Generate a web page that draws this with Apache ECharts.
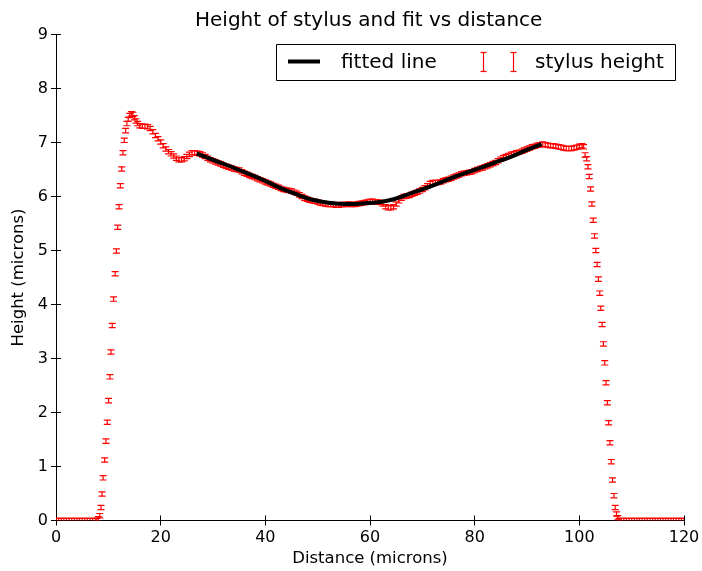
<!DOCTYPE html>
<html>
<head>
<meta charset="utf-8">
<script src="https://cdn.jsdelivr.net/npm/echarts/dist/echarts.min.js"></script>
<style>
  html, body { margin: 0; padding: 0; background: #fff; }
  #chart { width: 702px; height: 571px; }
</style>
</head>
<body>
<div id="chart"></div>
<script>
// Stylus profile: [distance (microns), height (microns)]
const leftFlat = [[0,0],[0.5,0],[1,0],[1.5,0],[2,0],[2.5,0],[3,0],[3.5,0],[4,0],[4.5,0],[5,0],[5.5,0],[6,0],[6.5,0],[7,0],[7.5,0],[7.8,0]];
const risingEdge = [[8.08,0.03],[8.35,0.09],[8.6,0.24],[8.8,0.49],[9.0,0.79],[9.3,1.12],[9.55,1.47],[9.8,1.82],[10.05,2.22],[10.3,2.66],[10.5,3.12],[10.75,3.61],[11.0,4.10],[11.3,4.57],[11.55,4.99],[11.8,5.43],[12.05,5.81],[12.3,6.20],[12.55,6.51],[12.8,6.81],[13.05,7.04],[13.3,7.22],[13.55,7.35],[13.8,7.43],[14.1,7.50],[14.4,7.53]];
const leftShoulder = [[14.7,7.52],[15.0,7.46],[15.3,7.40],[15.6,7.35],[16.0,7.31],[16.5,7.30],[17.0,7.30],[17.5,7.29],[18.0,7.26],[18.5,7.20],[19.0,7.13],[19.5,7.07],[20.0,7.01],[20.5,6.94],[21.0,6.88],[21.5,6.83],[22.0,6.79],[22.5,6.75],[23.0,6.71],[23.5,6.68],[24.0,6.68],[24.5,6.70],[25.0,6.74],[25.5,6.78],[26.0,6.81],[26.5,6.81],[27.0,6.80]];
const profileTop = [
  [27.5,6.79],[28,6.77],[28.5,6.74],[29,6.71],[29.5,6.68],[30,6.66],[30.5,6.64],[31,6.62],[31.5,6.60],[32,6.58],
  [32.5,6.56],[33,6.54],[33.5,6.53],[34,6.51],[34.5,6.50],[35,6.49],[35.5,6.46],[36,6.43],[36.5,6.41],[37,6.39],
  [37.5,6.37],[38,6.35],[38.5,6.33],[39,6.31],[39.5,6.29],[40,6.27],[40.5,6.25],[41,6.23],[41.5,6.21],[42,6.19],
  [42.5,6.17],[43,6.15],[43.5,6.13],[44,6.12],[44.5,6.11],[45,6.10],[45.5,6.08],[46,6.06],[46.5,6.03],[47,6.00],
  [47.5,5.97],[48,5.95],[48.5,5.93],[49,5.92],[49.5,5.91],[50,5.90],[50.5,5.88],[51,5.87],[51.5,5.86],[52,5.85],
  [52.5,5.85],[53,5.85],[53.5,5.84],[54,5.84],[54.5,5.85],[55,5.85],[55.5,5.85],[56,5.86],[56.5,5.85],[57,5.85],
  [57.5,5.86],[58,5.87],[58.5,5.88],[59,5.89],[59.5,5.90],[60,5.91],[60.5,5.91],[61,5.90],[61.5,5.90],[62,5.89],
  [62.5,5.86],[63,5.81],[63.5,5.79],[64,5.79],[64.5,5.81],[65,5.86],[65.5,5.92],[66,5.97],[66.5,6.00],[67,6.01],
  [67.5,6.02],[68,6.04],[68.5,6.06],[69,6.08],[69.5,6.10],[70,6.13],[70.5,6.16],[71,6.20],[71.5,6.24],[72,6.26],
  [72.5,6.26],[73,6.26],[73.5,6.27],[74,6.29],[74.5,6.31],[75,6.32],[75.5,6.34],[76,6.36],[76.5,6.38],[77,6.40],
  [77.5,6.42],[78,6.43],[78.5,6.44],[79,6.45],[79.5,6.46],[80,6.48],[80.5,6.50],[81,6.52],[81.5,6.53],[82,6.55],
  [82.5,6.57],[83,6.59],[83.5,6.61],[84,6.63],[84.5,6.66],[85,6.69],[85.5,6.72],[86,6.74],[86.5,6.76],[87,6.78],
  [87.5,6.79],[88,6.81],[88.5,6.82],[89,6.84],[89.5,6.86],[90,6.88],[90.5,6.90],[91,6.92],[91.5,6.93],[92,6.95],
  [92.5,6.96],[93,6.97],[93.5,6.96],[94,6.95],[94.5,6.94],[95,6.94],[95.5,6.93],[96,6.92],[96.5,6.91],[97,6.90],
  [97.5,6.89],[98,6.89],[98.5,6.89],[99,6.90],[99.5,6.91],[100,6.93],[100.5,6.94],[100.8,6.92]
];
const fallingEdge = [[101.1,6.77],[101.4,6.70],[101.65,6.55],[101.9,6.37],[102.15,6.14],[102.4,5.86],[102.65,5.56],[102.9,5.27],[103.15,5.00],[103.4,4.74],[103.65,4.47],[103.9,4.21],[104.1,3.93],[104.35,3.63],[104.6,3.27],[104.85,2.92],[105.1,2.55],[105.35,2.18],[105.6,1.81],[105.85,1.44],[106.1,1.09],[106.35,0.75],[106.6,0.46],[106.85,0.24],[107.1,0.12],[107.35,0.05]];
const rightFlat = [[107.6,0],[108,0],[108.5,0],[109,0],[109.5,0],[110,0],[110.5,0],[111,0],[111.5,0],[112,0],[112.5,0],[113,0],[113.5,0],[114,0],[114.5,0],[115,0],[115.5,0],[116,0],[116.5,0],[117,0],[117.5,0],[118,0],[118.5,0],[119,0],[119.5,0],[120,0]];
const stylusError = 0.04;

// Fitted curve over the central region
const fitDistance = [26.9, 30, 33.25, 36, 39.5, 42.8, 46, 49, 52.4, 55.5, 58.5, 62, 64.5, 67.5, 70.8, 74, 77.2, 80.5, 83.6, 87, 89.9, 92.8];
const fitHeight = [6.80, 6.68, 6.56, 6.45, 6.31, 6.16, 6.04, 5.94, 5.88, 5.86, 5.87, 5.90, 5.95, 6.05, 6.16, 6.28, 6.40, 6.51, 6.62, 6.74, 6.86, 6.97];

const stylusData = [].concat(leftFlat, risingEdge, leftShoulder, profileTop, fallingEdge, rightFlat);
const fitData = fitDistance.map((d, i) => [d, fitHeight[i]]);

const FONT = '"DejaVu Sans", "Liberation Sans", sans-serif';
const RED = '#ff0000';
const BAR_WIDTH = 1.2;

function renderErrorBar(params, api) {
  const x = api.value(0), y = api.value(1);
  const top = api.coord([x, y + stylusError]);
  const bottom = api.coord([x, y - stylusError]);
  const half = 3.5;
  return {
    type: 'group',
    children: [
      { type: 'line', shape: { x1: top[0], y1: top[1], x2: bottom[0], y2: bottom[1] }, style: { stroke: RED, lineWidth: BAR_WIDTH } },
      { type: 'line', shape: { x1: top[0] - half, y1: top[1], x2: top[0] + half, y2: top[1] }, style: { stroke: RED, lineWidth: BAR_WIDTH } },
      { type: 'line', shape: { x1: bottom[0] - half, y1: bottom[1], x2: bottom[0] + half, y2: bottom[1] }, style: { stroke: RED, lineWidth: BAR_WIDTH } }
    ]
  };
}

const frameAxis = {
  axisLine: { show: true, lineStyle: { color: '#000', width: 1 } },
  axisTick: { show: true, inside: true, length: 5, lineStyle: { color: '#000', width: 1 } },
  splitLine: { show: false }
};

const chart = echarts.init(document.getElementById('chart'), null, { renderer: 'canvas' });
chart.setOption({
  animation: false,
  backgroundColor: '#fff',
  title: {
    text: 'Height of stylus and fit vs distance',
    left: 195,
    top: 11,
    padding: 0,
    textStyle: { fontFamily: FONT, fontSize: 20, fontWeight: 'normal', color: '#000' }
  },
  grid: { left: 56, top: 34.5, width: 628, height: 486, containLabel: false, outerBoundsMode: 'none' },
  xAxis: [
    Object.assign({
      type: 'value', min: 0, max: 120, interval: 20, position: 'bottom',
      name: 'Distance (microns)', nameLocation: 'middle', nameGap: 30,
      nameTextStyle: { fontFamily: FONT, fontSize: 16.5, color: '#000' },
      axisLabel: { fontFamily: FONT, fontSize: 16, color: '#000', margin: 9 }
    }, frameAxis),
    Object.assign({
      type: 'value', min: 0, max: 120, interval: 20, position: 'top',
      axisLabel: { show: false }
    }, frameAxis)
  ],
  yAxis: [
    Object.assign({
      type: 'value', min: 0, max: 9, interval: 1, position: 'left',
      name: 'Height (microns)', nameLocation: 'middle', nameGap: 26,
      nameTextStyle: { fontFamily: FONT, fontSize: 16.5, color: '#000' },
      axisLabel: { fontFamily: FONT, fontSize: 16, color: '#000', margin: 8 }
    }, frameAxis),
    Object.assign({
      type: 'value', min: 0, max: 9, interval: 1, position: 'right',
      axisLabel: { show: false }
    }, frameAxis)
  ],
  series: [
    {
      name: 'stylus height',
      type: 'custom',
      renderItem: renderErrorBar,
      encode: { x: 0, y: 1 },
      data: stylusData,
      clip: true,
      z: 2
    },
    {
      name: 'fitted line',
      type: 'line',
      data: fitData,
      smooth: 0.4,
      showSymbol: false,
      lineStyle: { color: '#000', width: 4 },
      itemStyle: { color: '#000' },
      z: 3
    }
  ],
  graphic: [
    { type: 'rect', z: 100, shape: { x: 276.5, y: 44.5, width: 399, height: 36 }, style: { fill: '#fff', stroke: '#000', lineWidth: 1 } },
    { type: 'line', z: 101, shape: { x1: 288, y1: 61.5, x2: 320, y2: 61.5 }, style: { stroke: '#000', lineWidth: 4 } },
    { type: 'text', z: 101, x: 341, y: 62.5, style: { text: 'fitted line', font: '20px ' + FONT, fill: '#000', verticalAlign: 'middle' } },
    { type: 'line', z: 101, shape: { x1: 483.5, y1: 52, x2: 483.5, y2: 72 }, style: { stroke: RED, lineWidth: BAR_WIDTH } },
    { type: 'line', z: 101, shape: { x1: 480.5, y1: 52.5, x2: 486.5, y2: 52.5 }, style: { stroke: RED, lineWidth: BAR_WIDTH } },
    { type: 'line', z: 101, shape: { x1: 480.5, y1: 71.5, x2: 486.5, y2: 71.5 }, style: { stroke: RED, lineWidth: BAR_WIDTH } },
    { type: 'line', z: 101, shape: { x1: 513.5, y1: 52, x2: 513.5, y2: 72 }, style: { stroke: RED, lineWidth: BAR_WIDTH } },
    { type: 'line', z: 101, shape: { x1: 510.5, y1: 52.5, x2: 516.5, y2: 52.5 }, style: { stroke: RED, lineWidth: BAR_WIDTH } },
    { type: 'line', z: 101, shape: { x1: 510.5, y1: 71.5, x2: 516.5, y2: 71.5 }, style: { stroke: RED, lineWidth: BAR_WIDTH } },
    { type: 'text', z: 101, x: 535, y: 62.5, style: { text: 'stylus height', font: '20px ' + FONT, fill: '#000', verticalAlign: 'middle' } }
  ]
});
</script>
</body>
</html>
